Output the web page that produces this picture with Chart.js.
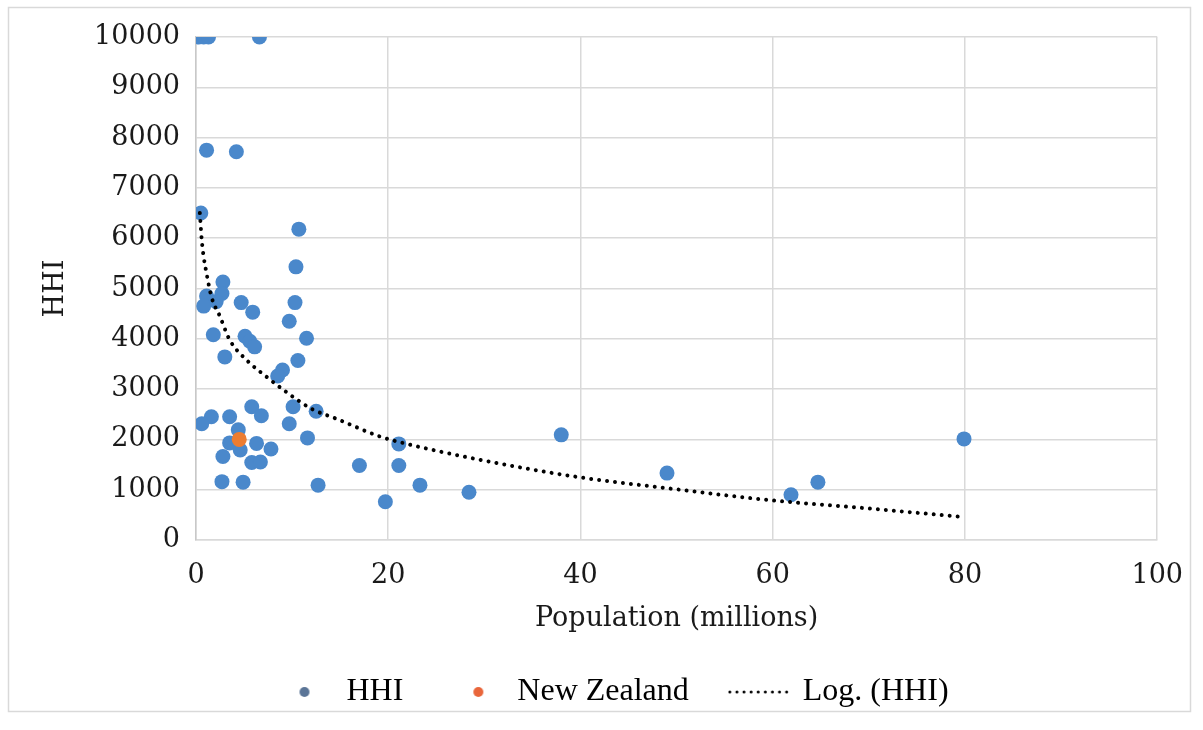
<!DOCTYPE html>
<html>
<head>
<meta charset="utf-8">
<script src="https://cdn.jsdelivr.net/npm/chart.js@4.4.1/dist/chart.umd.min.js"></script>
<style>
  html, body { margin: 0; padding: 0; background: #fff; }
</style>
</head>
<body>
<canvas id="hhiChart" width="1203" height="730"></canvas>
<script>
// values
const hhiPopulation = [0.3, 0.8, 1.3, 6.6, 1.1, 4.2, 0.5, 10.7, 10.4, 2.8,
  2.7, 1.1, 2.1, 0.8, 4.7, 10.3, 5.9, 9.7, 1.8, 5.1,
  5.6, 6.1, 11.5, 3.0, 10.6, 9.0, 8.5, 5.8, 10.1, 12.5,
  6.8, 1.6, 3.5, 0.6, 9.7, 4.4, 3.5, 4.6, 6.3, 7.8,
  11.6, 2.8, 5.8, 6.7, 2.7, 4.9, 12.7, 17.0, 21.1, 21.1,
  23.3, 19.7, 28.4, 38.0, 49.0, 61.9, 64.7, 79.9];
const hhiValues = [10000, 10000, 10000, 10000, 7750, 7720, 6500, 6180, 5430, 5130,
  4900, 4850, 4740, 4650, 4720, 4720, 4530, 4350, 4080, 4050,
  3950, 3840, 4010, 3640, 3570, 3380, 3260, 2650, 2650, 2560,
  2470, 2450, 2450, 2310, 2310, 2190, 1930, 1790, 1920, 1810,
  2030, 1660, 1540, 1550, 1160, 1150, 1090, 1480, 1910, 1480,
  1090, 760, 950, 2090, 1330, 900, 1150, 2010];

const nzPopulation = [4.5];
const nzValues = [2000];

const trendPopulation = [0.4, 0.6, 0.8, 1.1, 1.6, 2.5, 3.5, 5.25, 7.3, 9.7,
  12.1, 14.6, 19.1, 21.1, 29.4, 39.8, 49, 59.8, 69.8, 79.9];
const trendValues = [6500, 5960, 5630, 5300, 4840, 4440, 3980, 3580, 3250, 2900,
  2600, 2410, 2060, 1950, 1600, 1250, 1030, 790, 630, 455];

const xTicks = [0, 20, 40, 60, 80, 100];
const yTicks = [0, 1000, 2000, 3000, 4000, 5000, 6000, 7000, 8000, 9000, 10000];

const hhiBlue = '#4a88cb';
const nzOrange = '#ed7d31';
const gridGray = '#d9d9d9';
const serifFont = '"DejaVu Serif", Georgia, serif';
const legendFont = '"Liberation Serif", "Times New Roman", serif';

function pairs(xs, ys) {
    return xs.map((x, i) => ({ x: x, y: ys[i] }));
}

// legend symbols: drawn on small canvases so they sit where the original ones do
function dotSymbol(color, dotX) {
    const c = document.createElement('canvas');
    c.width = 32;
    c.height = 12;
    const g = c.getContext('2d');
    g.fillStyle = color;
    g.beginPath();
    g.arc(dotX, 6, 5, 0, Math.PI * 2);
    g.fill();
    return c;
}

function dottedSymbol() {
    const c = document.createElement('canvas');
    c.width = 86;
    c.height = 8;
    const g = c.getContext('2d');
    g.fillStyle = '#000';
    for (let i = 0; i < 9; i++) {
        g.beginPath();
        g.arc(2 + i * 7.1, 4, 1.5, 0, Math.PI * 2);
        g.fill();
    }
    return c;
}

const chartFrame = {
    id: 'chartFrame',
    beforeDraw(chart) {
        const ctx = chart.ctx;
        ctx.save();
        ctx.fillStyle = '#fff';
        ctx.fillRect(0, 0, chart.width, chart.height);
        ctx.strokeStyle = gridGray;
        ctx.lineWidth = 1.5;
        ctx.strokeRect(8.5, 7.5, 1182, 704);
        ctx.restore();
    }
};

// move the legend row to where the original one is
const legendShift = {
    id: 'legendShift',
    afterLayout(chart) {
        const lg = chart.legend;
        if (!lg) return;
        lg.left += 38;
        lg.right += 38;
        lg.top -= 27;
        lg.bottom = chart.height;
    }
};

const ctx = document.getElementById('hhiChart').getContext('2d');
new Chart(ctx, {
    type: 'scatter',
    data: {
        datasets: [
            {
                label: 'Log. (HHI)',
                data: pairs(trendPopulation, trendValues),
                showLine: true,
                borderColor: '#000',
                borderWidth: 4,
                borderDash: [0.01, 8],
                borderCapStyle: 'round',
                cubicInterpolationMode: 'monotone',
                pointRadius: 0,
                pointHoverRadius: 0,
                order: 0
            },
            {
                label: 'New Zealand',
                data: pairs(nzPopulation, nzValues),
                backgroundColor: nzOrange,
                borderWidth: 0,
                pointRadius: 7.5,
                order: 1
            },
            {
                label: 'HHI',
                data: pairs(hhiPopulation, hhiValues),
                backgroundColor: hhiBlue,
                borderWidth: 0,
                pointRadius: 7.5,
                order: 2
            }
        ]
    },
    options: {
        responsive: false,
        animation: false,
        devicePixelRatio: 1,
        layout: { padding: { left: 10, right: 42, top: 37, bottom: 9 } },
        plugins: {
            tooltip: { enabled: false },
            legend: {
                position: 'bottom',
                maxHeight: 84,
                labels: {
                    usePointStyle: true,
                    padding: 66,
                    color: '#111',
                    font: { family: legendFont, size: 32 },
                    generateLabels: function () {
                        return [
                            { text: 'HHI', fillStyle: hhiBlue, lineWidth: 0, pointStyle: dotSymbol('#5b7597', 6), hidden: false, datasetIndex: 2 },
                            { text: 'New Zealand', fillStyle: nzOrange, lineWidth: 0, pointStyle: dotSymbol('#e9663b', 9), hidden: false, datasetIndex: 1 },
                            { text: 'Log. (HHI)', fillStyle: '#000', lineWidth: 0, pointStyle: dottedSymbol(), hidden: false, datasetIndex: 0 }
                        ];
                    }
                }
            }
        },
        scales: {
            x: {
                type: 'linear',
                min: 0,
                max: 100,
                afterBuildTicks: s => { s.ticks = xTicks.map(v => ({ value: v })); },
                afterFit: s => { s.height = 97; },
                grid: { color: gridGray, lineWidth: 1.5, drawTicks: false },
                border: { color: gridGray, width: 1.5 },
                ticks: { padding: 20, color: '#1a1a1a', font: { family: serifFont, size: 27 }, callback: v => String(v) },
                title: {
                    display: true,
                    text: 'Population (millions)',
                    color: '#1a1a1a',
                    font: { family: serifFont, size: 27 },
                    padding: { top: 8, bottom: 2 }
                }
            },
            y: {
                type: 'linear',
                min: 0,
                max: 10000,
                afterBuildTicks: s => { s.ticks = yTicks.map(v => ({ value: v })); },
                afterFit: s => { s.width = 186; },
                grid: { color: gridGray, lineWidth: 1.5, drawTicks: false },
                border: { color: '#c8c8c8', width: 1.5 },
                ticks: { padding: 16, color: '#1a1a1a', font: { family: serifFont, size: 27 }, callback: v => String(v) },
                title: {
                    display: true,
                    text: 'HHI',
                    color: '#1a1a1a',
                    font: { family: serifFont, size: 27 },
                    padding: { top: 30, bottom: 0 }
                }
            }
        }
    },
    plugins: [chartFrame, legendShift]
});
</script>
</body>
</html>
